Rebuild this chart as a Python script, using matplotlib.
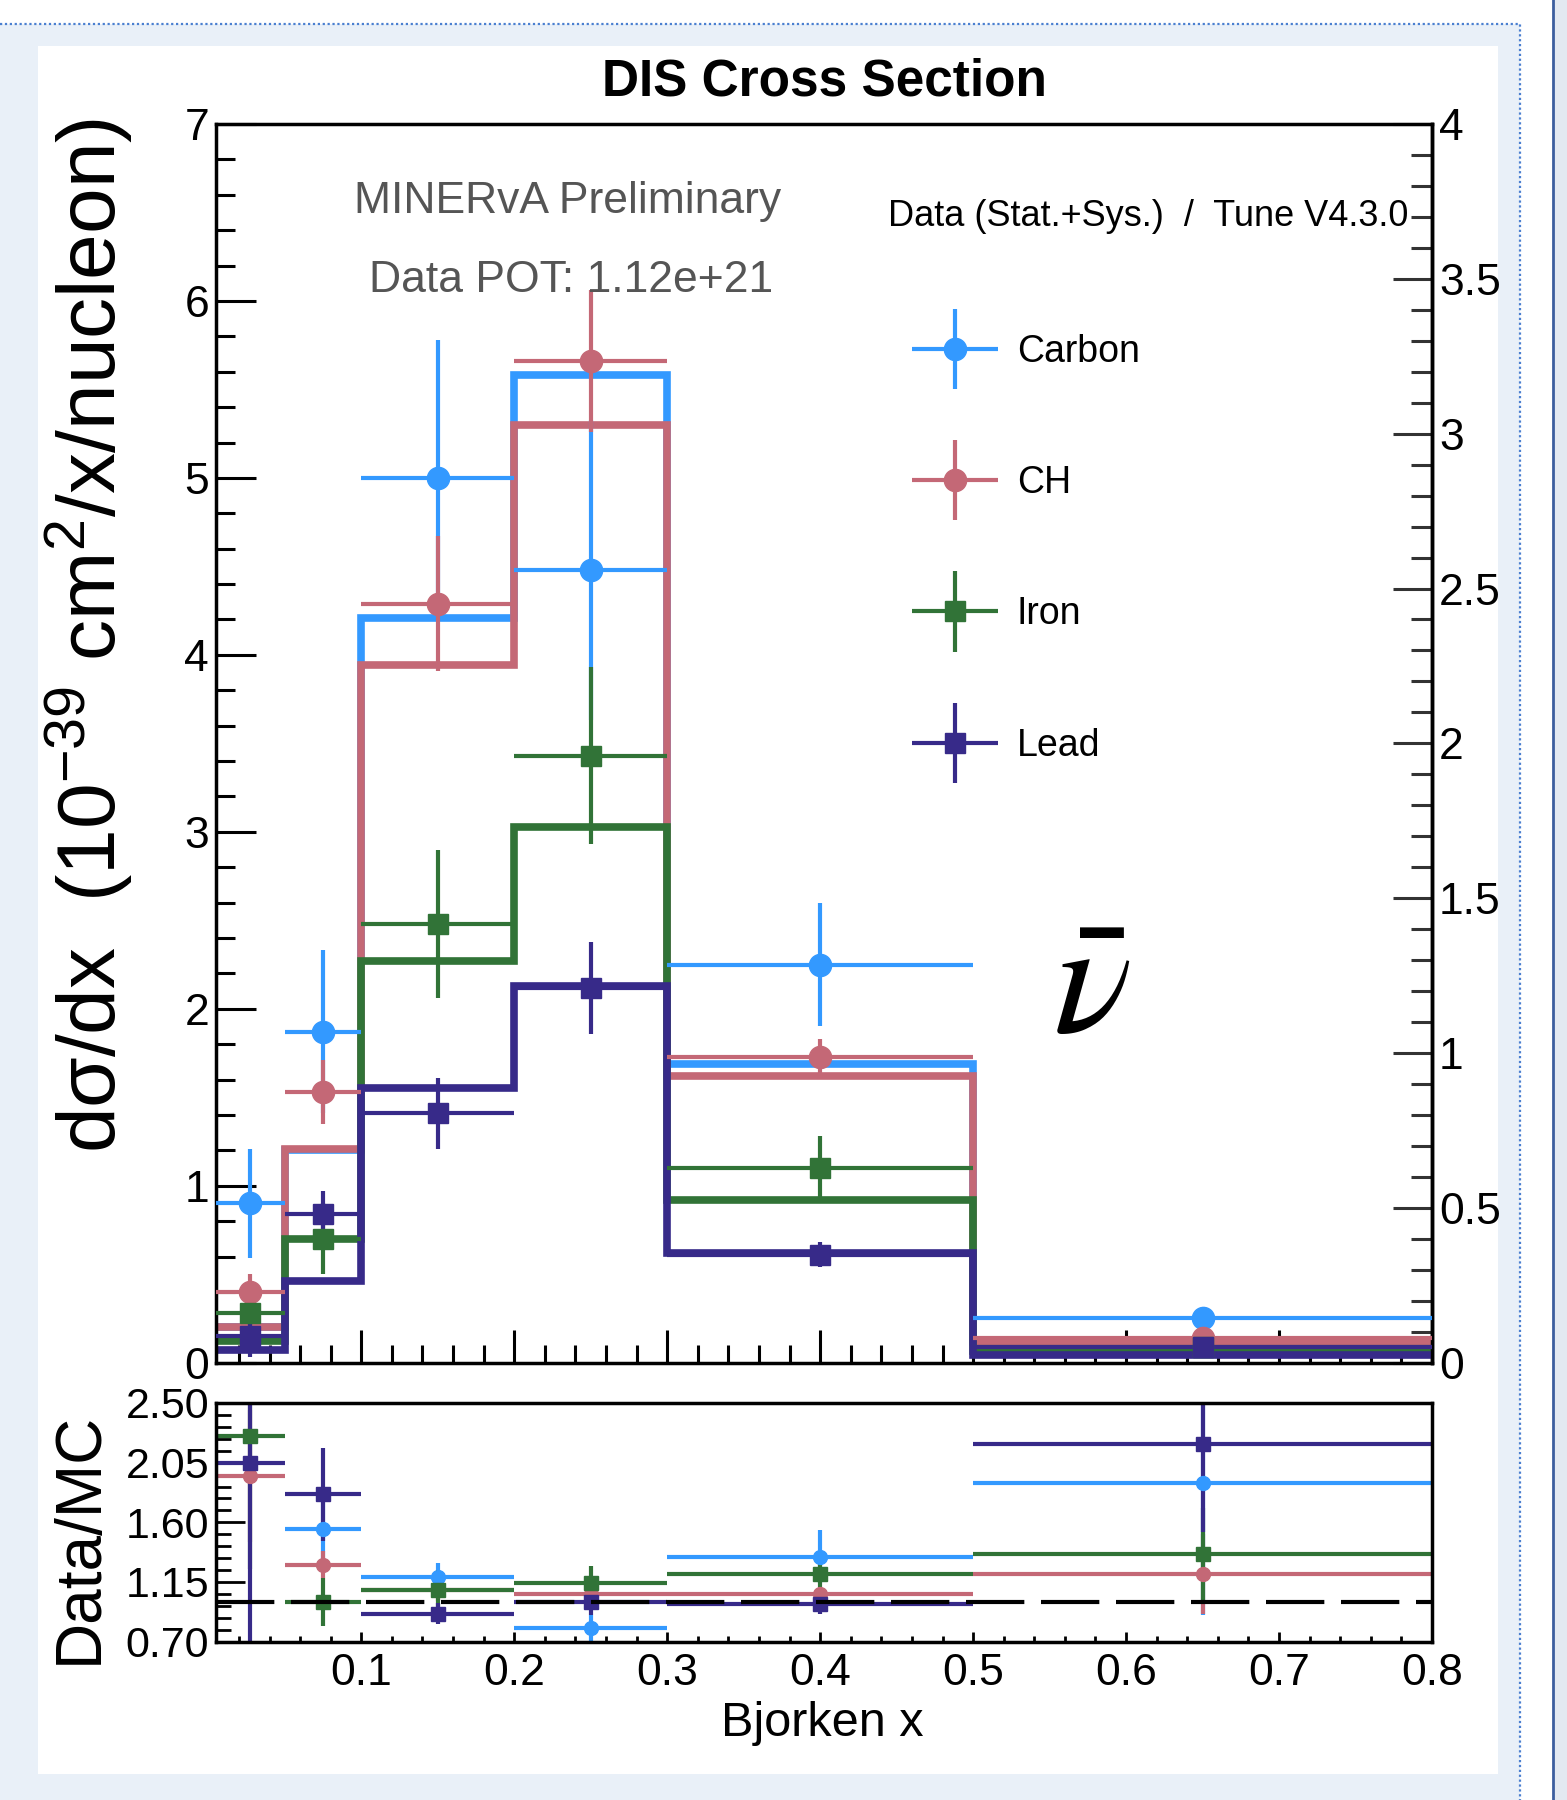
import numpy as np
import matplotlib
matplotlib.use('Agg')
import matplotlib.pyplot as plt
from matplotlib.ticker import MultipleLocator, FixedLocator, FuncFormatter
from matplotlib.patches import Rectangle
from matplotlib.lines import Line2D
from matplotlib.container import ErrorbarContainer
from matplotlib.legend_handler import HandlerErrorbar

plt.rcParams['font.family'] = ['Liberation Sans', 'DejaVu Sans']
plt.rcParams['mathtext.fontset'] = 'custom'
plt.rcParams['mathtext.rm'] = 'Liberation Sans'
plt.rcParams['mathtext.default'] = 'regular'

# bins in Bjorken x
edges = [0.005, 0.05, 0.1, 0.2, 0.3, 0.5, 0.8]

# data (1e-39 cm2/x/nucleon)
carbon = [0.90, 1.87, 5.00, 4.48, 2.25, 0.25]
carbon_err = [0.31, 0.46, 0.78, 0.85, 0.35, 0.04]
ch = [0.40, 1.53, 4.29, 5.66, 1.73, 0.14]
ch_err = [0.10, 0.18, 0.38, 0.40, 0.10, 0.03]
iron = [0.28, 0.70, 2.48, 3.43, 1.10, 0.09]
iron_err = [0.15, 0.20, 0.42, 0.50, 0.18, 0.03]
lead = [0.15, 0.84, 1.41, 2.12, 0.61, 0.09]
lead_err = [0.12, 0.13, 0.20, 0.26, 0.07, 0.03]

# MC (Tune V4.3.0)
carbon_mc = [0.20, 1.20, 4.21, 5.58, 1.69, 0.13]
ch_mc = [0.20, 1.21, 3.94, 5.30, 1.62, 0.115]
iron_mc = [0.12, 0.70, 2.27, 3.03, 0.92, 0.066]
lead_mc = [0.07, 0.46, 1.55, 2.13, 0.62, 0.042]

# Data/MC
carbon_ratio = [4.50, 1.55, 1.19, 0.80, 1.34, 1.90]
carbon_ratio_err = [1.50, 0.30, 0.10, 0.10, 0.20, 1.00]
ch_ratio = [1.95, 1.28, 1.09, 1.06, 1.06, 1.21]
ch_ratio_err = [0.50, 0.10, 0.08, 0.07, 0.05, 0.30]
iron_ratio = [2.25, 1.00, 1.09, 1.14, 1.21, 1.36]
iron_ratio_err = [1.00, 0.18, 0.15, 0.13, 0.10, 0.35]
lead_ratio = [2.05, 1.81, 0.91, 1.00, 0.98, 2.19]
lead_ratio_err = [2.50, 0.35, 0.08, 0.10, 0.07, 0.66]

names = ['Carbon', 'CH', 'Iron', 'Lead']
colors = ['#3399ff', '#c46876', '#317337', '#372a89']
markers = ['o', 'o', 's', 's']

W, H = 1567, 1800
edges_a = np.array(edges)
centers = 0.5 * (edges_a[1:] + edges_a[:-1])
half = 0.5 * (edges_a[1:] - edges_a[:-1])

fig = plt.figure(figsize=(W / 100, H / 100), dpi=100, facecolor='white')

# page background
fig.add_artist(Rectangle((0, 0), 1520 / W, (H - 24) / H, transform=fig.transFigure,
                         facecolor='#e9f0f8', edgecolor='none', zorder=-10))
fig.add_artist(Rectangle((1553 / W, 0), (W - 1553) / W, 1, transform=fig.transFigure,
                         facecolor='#e3e9f1', edgecolor='none', zorder=-10))
fig.add_artist(Rectangle((38 / W, 1 - 1774 / H), 1460 / W, 1728 / H, transform=fig.transFigure,
                         facecolor='white', edgecolor='none', zorder=-9))
fig.add_artist(Line2D([0, 1520 / W, 1520 / W], [1 - 24 / H, 1 - 24 / H, 0], transform=fig.transFigure,
                      color='#4a7fd0', lw=1.6, ls=(0, (1, 1.2)), zorder=-8))
fig.add_artist(Line2D([1553 / W, 1553 / W], [0, 1], transform=fig.transFigure,
                      color='#3c5e9e', lw=2, zorder=-8))

ax = fig.add_axes([216 / W, 1 - 1362.7 / H, (1432 - 216) / W, (1362.7 - 124) / H])
rax = fig.add_axes([216 / W, 1 - 1641.6 / H, (1432 - 216) / W, (1641.6 - 1403) / H])

data = [(carbon, carbon_err), (ch, ch_err), (iron, iron_err), (lead, lead_err)]
mcs = [carbon_mc, ch_mc, iron_mc, lead_mc]
ratios = [(carbon_ratio, carbon_ratio_err), (ch_ratio, ch_ratio_err),
          (iron_ratio, iron_ratio_err), (lead_ratio, lead_ratio_err)]

for mc, col in zip(mcs, colors):
    ax.stairs(mc, edges, color=col, lw=5.5, baseline=None, zorder=2)

handles = []
for (vals, err), col, mk, nm in zip(data, colors, markers, names):
    h = ax.errorbar(centers, vals, xerr=half, yerr=err, fmt=mk, color=col,
                    ms=16 if mk == 'o' else 15, elinewidth=3, capsize=0, zorder=3, label=nm)
    handles.append(h)

for (vals, err), col, mk in zip(ratios, colors, markers):
    rax.errorbar(centers, vals, xerr=half, yerr=err, fmt=mk, color=col,
                 ms=10, elinewidth=3, capsize=0, zorder=2)
rax.axhline(1.0, color='black', lw=3, dashes=(14, 4), zorder=3)

ax.set_xlim(0.005, 0.8)
ax.set_ylim(0, 7)
rax.set_xlim(0.005, 0.8)
rax.set_ylim(0.7, 2.5)

for a in (ax, rax):
    for s in a.spines.values():
        s.set_linewidth(2.5)
        s.set_color('black')

ax.xaxis.set_major_locator(MultipleLocator(0.1))
ax.xaxis.set_minor_locator(MultipleLocator(0.02))
ax.yaxis.set_major_locator(MultipleLocator(1))
ax.yaxis.set_minor_locator(MultipleLocator(0.2))
ax.tick_params(axis='x', which='both', direction='in', bottom=True, top=False, labelbottom=False)
ax.tick_params(axis='x', which='major', length=24, width=2.2)
ax.tick_params(axis='x', which='minor', length=13, width=2.2)
ax.tick_params(axis='y', which='both', direction='in', left=True, right=False, labelsize=32, pad=5)
ax.tick_params(axis='y', which='major', length=29, width=2.2)
ax.tick_params(axis='y', which='minor', length=14, width=2.2)

sec = ax.secondary_yaxis('right', functions=(lambda y: y * 4 / 7, lambda y: y * 7 / 4))
sec.yaxis.set_major_locator(MultipleLocator(0.5))
sec.yaxis.set_minor_locator(MultipleLocator(0.1))
sec.yaxis.set_major_formatter(FuncFormatter(lambda v, p: f'{v:g}'))
sec.tick_params(which='both', direction='in', labelsize=32, pad=5, color='#333333')
sec.tick_params(which='major', length=28, width=2.2)
sec.tick_params(which='minor', length=15, width=2.2)
sec.spines['right'].set_linewidth(2.5)
sec.yaxis.get_offset_text().set_visible(False)
ax.yaxis.get_offset_text().set_visible(False)

rax.xaxis.set_major_locator(MultipleLocator(0.1))
rax.xaxis.set_minor_locator(MultipleLocator(0.02))
rax.xaxis.set_major_formatter(FuncFormatter(lambda v, p: f'{v:.1f}'))
rax.yaxis.set_major_locator(FixedLocator([0.7, 1.15, 1.6, 2.05, 2.5]))
rax.yaxis.set_minor_locator(FixedLocator(np.arange(0.7, 2.5001, 0.09)))
rax.yaxis.set_major_formatter(FuncFormatter(lambda v, p: f'{v:.2f}'))
rax.tick_params(axis='x', which='both', direction='in', labelsize=32, pad=8, top=False)
rax.tick_params(axis='x', which='major', length=7, width=2)
rax.tick_params(axis='x', which='minor', length=4, width=2)
rax.tick_params(axis='y', which='both', direction='in', labelsize=31, pad=5, right=False)
rax.tick_params(axis='y', which='major', length=21, width=2)
rax.tick_params(axis='y', which='minor', length=11, width=2)

# labels and annotations
fig.text(824 / W, 1 - 82 / H, 'DIS Cross Section', ha='center', va='center',
         fontsize=37, fontweight='bold')
fig.text(568 / W, 1 - 201 / H, 'MINERvA Preliminary', ha='center', va='center',
         fontsize=32, color='#555555')
fig.text(571 / W, 1 - 281 / H, 'Data POT: 1.12e+21', ha='center', va='center',
         fontsize=32, color='#555555')
fig.text(1148 / W, 1 - 216 / H, 'Data (Stat.+Sys.)  /  Tune V4.3.0', ha='center', va='center',
         fontsize=26)
fig.text(1092 / W, 1 - 990 / H, r'$\bar{\mathit{\nu}}$', ha='center', va='center',
         fontsize=118, math_fontfamily='stix')
fig.text(90 / W, 1 - 636 / H, 'dσ/dx  (10$^{-39}$ cm$^{2}$/x/nucleon)', rotation=90,
         ha='center', va='center', fontsize=59)
fig.text(80 / W, 1 - 1538 / H, 'Data/MC', rotation=90, ha='center', va='center', fontsize=46)
fig.text(822 / W, 1 - 1724 / H, 'Bjorken x', ha='center', va='center', fontsize=35)

fig.legend(handles, names, loc='upper left', bbox_to_anchor=(912 / W, 1 - 334 / H),
           bbox_transform=fig.transFigure, frameon=False, fontsize=27, borderpad=0,
           borderaxespad=0, labelspacing=2.54, handlelength=2.3, handletextpad=0.5,
           handler_map={ErrorbarContainer: HandlerErrorbar(xerr_size=1.15, yerr_size=1.07)})

fig.savefig('out.png', dpi=100)
